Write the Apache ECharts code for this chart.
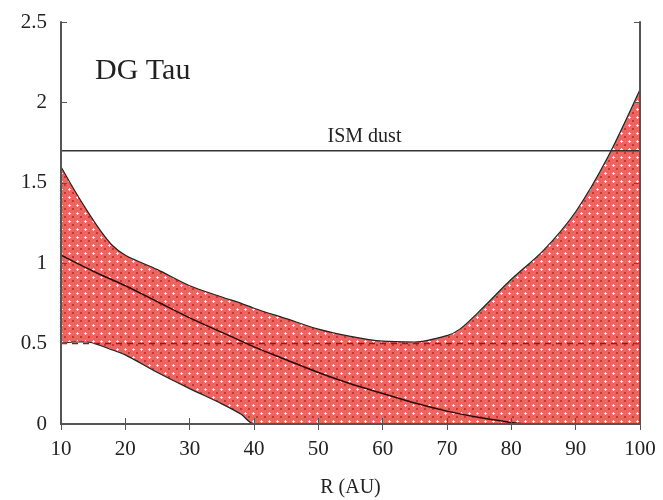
<!DOCTYPE html>
<html>
<head>
<meta charset="utf-8">
<script src="https://cdn.jsdelivr.net/npm/echarts@6/dist/echarts.min.js"></script>
<style>html,body{margin:0;padding:0;background:#fff}#c{width:663px;height:500px}</style>
</head>
<body>
<div id="c"></div>
<script>
// Band radius grid (AU)
const bandX = [10,12,14,16,18,20,25,30,35,38,40,45,50,55,60,65,70,72,75,80,85,90,95,100];
const upperY = [1.60,1.46,1.33,1.21,1.11,1.05,0.96,0.86,0.79,0.75,0.72,0.655,0.59,0.545,0.515,0.51,0.55,0.59,0.70,0.90,1.08,1.32,1.66,2.08];
const lowerY = [0.50,0.51,0.51,0.49,0.46,0.43,0.32,0.22,0.125,0.06,0,0,0,0,0,0,0,0,0,0,0,0,0,0];
// Central solid curve
const midX = [10,15,20,25,30,35,40,45,50,55,60,65,70,75,80,82];
const midY = [1.05,0.95,0.86,0.76,0.66,0.57,0.48,0.40,0.32,0.25,0.19,0.13,0.08,0.04,0.01,0];
const dashedLevel = 0.5;
const ismLevel = 1.7;

// dotted red fill pattern
const pat = document.createElement('canvas');
pat.width = 8; pat.height = 8;
const g = pat.getContext('2d');
g.fillStyle = '#ea6660'; g.fillRect(0,0,8,8);
g.fillStyle = '#d4302c'; g.fillRect(0,0,2,2);
g.fillStyle = 'rgba(255,255,255,0.9)';
g.fillRect(5,4,1,3); g.fillRect(4,5,3,1);

const font = '"Liberation Serif", "DejaVu Serif", serif';
const pair = (xs, ys) => xs.map((x,i)=>[x, ys[i]]);
const chart = echarts.init(document.getElementById('c'));
const axisLine = {show:true, lineStyle:{color:'#555', width:2}};
const tick = {inside:true, length:6, lineStyle:{color:'#555'}};
chart.setOption({
  animation:false,
  grid:{left:61, right:23, top:22, bottom:76, containLabel:false, outerBoundsMode:'none'},
  xAxis:[{
    type:'value', min:10, max:100, interval:10, z:10,
    name:'R (AU)', nameLocation:'middle', nameGap:54,
    nameTextStyle:{fontFamily:font, fontSize:20, color:'#222'},
    axisLine, axisTick:tick,
    axisLabel:{fontFamily:font, fontSize:21, color:'#222', margin:15},
    splitLine:{show:false}
  },{
    type:'value', min:10, max:100, interval:10, position:'top', z:10,
    axisLine, axisTick:tick,
    axisLabel:{show:false}, splitLine:{show:false}
  }],
  yAxis:[{
    type:'value', min:0, max:2.5, interval:0.5, z:10,
    axisLine, axisTick:tick,
    axisLabel:{fontFamily:font, fontSize:21, color:'#222', margin:14},
    splitLine:{show:false}
  },{
    type:'value', min:0, max:2.5, interval:0.5, position:'right', z:10,
    axisLine, axisTick:tick,
    axisLabel:{show:false}, splitLine:{show:false}
  }],
  graphic:[{type:'text', left:95, top:56, z:20, style:{text:'DG Tau', font:'30px "Liberation Serif", serif', fill:'#222'}}],
  series:[
    {type:'line', data:pair(bandX, upperY), smooth:0.3, symbol:'none',
     lineStyle:{color:'#222', width:1.2}, areaStyle:{origin:'start', color:{image:pat, repeat:'repeat'}, opacity:1}, z:2},
    {type:'line', data:pair(bandX, lowerY), smooth:0.3, symbol:'none',
     lineStyle:{color:'#222', width:1.2}, areaStyle:{origin:'start', color:'#ffffff', opacity:1}, z:3},
    {type:'line', data:pair(midX, midY), smooth:0.3, symbol:'none',
     lineStyle:{color:'#2a0a08', width:1.5}, z:4},
    {type:'line', data:[[10,dashedLevel],[100,dashedLevel]], symbol:'none',
     lineStyle:{color:'#a01410', width:1.5, type:[6,5]}, z:4},
    {type:'line', data:[[10,ismLevel],[100,ismLevel]], symbol:'none',
     lineStyle:{color:'#333', width:1.5}, z:4,
     markLine:{symbol:'none', silent:true, data:[{yAxis:ismLevel}],
       lineStyle:{width:0},
       label:{show:true, position:'middle', formatter:'ISM dust', distance:4, offset:[14,0], fontFamily:font, fontSize:20, color:'#222'}}}
  ]
});
</script>
</body>
</html>
